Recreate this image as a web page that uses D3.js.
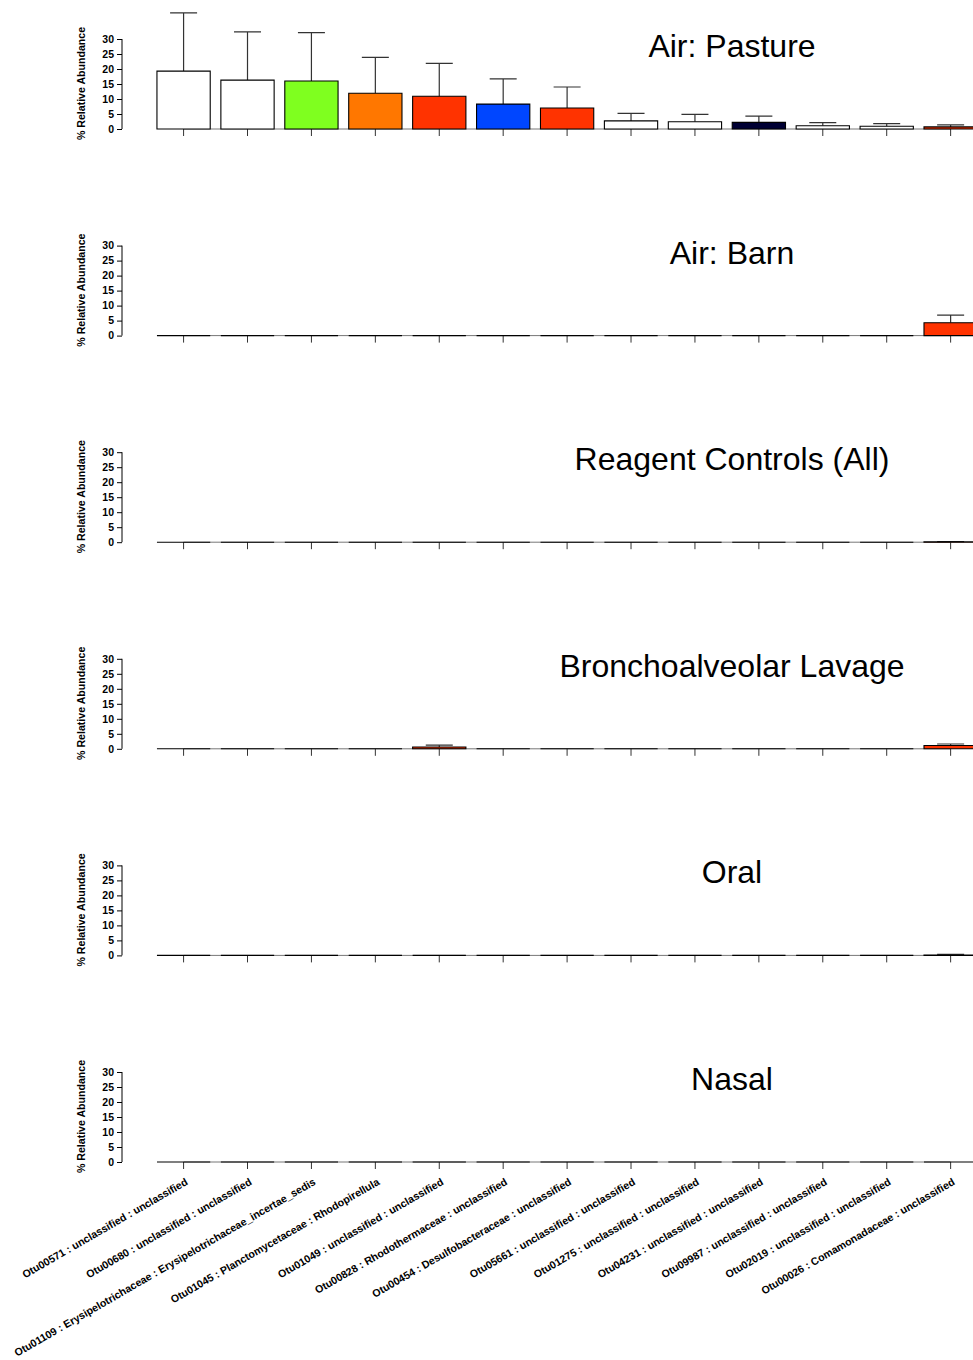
<!DOCTYPE html>
<html>
<head>
<meta charset="utf-8">
<script src="https://cdn.jsdelivr.net/npm/d3@7"></script>
<style>
  body { margin: 0; background: #fff; }
  svg { display: block; font-family: "Liberation Sans", Arial, sans-serif; }
</style>
</head>
<body>
<div id="chart"></div>
<script>
// OTU labels along the bottom
var otus = [
  "Otu00571 : unclassified : unclassified",
  "Otu00680 : unclassified : unclassified",
  "Otu01109 : Erysipelotrichaceae : Erysipelotrichaceae_incertae_sedis",
  "Otu01045 : Planctomycetaceae : Rhodopirellula",
  "Otu01049 : unclassified : unclassified",
  "Otu00828 : Rhodothermaceae : unclassified",
  "Otu00454 : Desulfobacteraceae : unclassified",
  "Otu05661 : unclassified : unclassified",
  "Otu01275 : unclassified : unclassified",
  "Otu04231 : unclassified : unclassified",
  "Otu09987 : unclassified : unclassified",
  "Otu02019 : unclassified : unclassified",
  "Otu00026 : Comamonadaceae : unclassified"
];
var barColors = ["#FFFFFF","#FFFFFF","#7FFF1F","#FF7700","#FF3300","#0046FF","#FF3300",
                 "#FFFFFF","#FFFFFF","#000033","#FFFFFF","#FFFFFF","#FF3300"];

var titles = ["Air: Pasture", "Air: Barn", "Reagent Controls (All)", "Bronchoalveolar Lavage", "Oral", "Nasal"];

// mean and mean+sd (top of error bar) per sample type
var pastureMean = [19.3, 16.3, 16.0, 11.9, 10.9, 8.3, 7.0, 2.7, 2.4, 2.2, 1.1, 0.9, 0.7];
var pastureTop  = [38.7, 32.4, 32.1, 23.9, 21.9, 16.7, 14.0, 5.2, 4.9, 4.3, 2.1, 1.8, 1.4];
var barnMean    = [0, 0, 0, 0, 0, 0, 0, 0, 0, 0, 0, 0, 4.3];
var barnTop     = [0, 0, 0, 0, 0, 0, 0, 0, 0, 0, 0, 0, 6.8];
var reagentMean = [0, 0, 0, 0, 0, 0, 0, 0, 0, 0, 0, 0, 0.1];
var reagentTop  = [0, 0, 0, 0, 0, 0, 0, 0, 0, 0, 0, 0, 0.2];
var balMean     = [0, 0, 0, 0, 0.6, 0, 0, 0, 0, 0, 0, 0, 1.1];
var balTop      = [0, 0, 0, 0, 1.2, 0, 0, 0, 0, 0, 0, 0, 1.6];
var oralMean    = [0, 0, 0, 0, 0, 0, 0, 0, 0, 0, 0, 0, 0.15];
var oralTop     = [0, 0, 0, 0, 0, 0, 0, 0, 0, 0, 0, 0, 0.35];
var nasalMean   = [0, 0, 0, 0, 0, 0, 0, 0, 0, 0, 0, 0, 0];
var nasalTop    = [0, 0, 0, 0, 0, 0, 0, 0, 0, 0, 0, 0, 0];
var yTicks = [0, 5, 10, 15, 20, 25, 30];

var means = [pastureMean, barnMean, reagentMean, balMean, oralMean, nasalMean];
var tops  = [pastureTop, barnTop, reagentTop, balTop, oralTop, nasalTop];

var W = 973, H = 1360;
var base0 = 129, panelStep = 206.6;

var svg = d3.select("#chart").append("svg").attr("width", W).attr("height", H);

var x = d3.scaleBand().domain(otus)
  .range([146.3, 146.3 + 63.92 * (13 + 1/6)])
  .paddingInner(1/6).paddingOuter(1/6);
var cx = function(d) { return x(d) + x.bandwidth() / 2; };

titles.forEach(function(t, p) {
  var base = base0 + p * panelStep;
  var y = d3.scaleLinear().domain([0, 30]).range([base, base - 90]);
  var g = svg.append("g");

  // y axis
  var ya = g.append("g").attr("transform", "translate(122,0)")
    .call(d3.axisLeft(y).tickValues(yTicks).tickSize(5).tickPadding(3));
  ya.select(".domain").attr("stroke", "#000").attr("d", "M0," + y(0) + "V" + y(30));
  ya.selectAll("text").attr("font-size", 10.5).attr("font-weight", "bold")
    .attr("font-family", "Liberation Sans, Arial, sans-serif").attr("fill", "#000");

  g.append("text")
    .attr("transform", "translate(84.5," + (base - 45.5) + ") rotate(-90)")
    .attr("text-anchor", "middle")
    .attr("font-size", 10.6).attr("font-weight", "bold")
    .text("% Relative Abundance");

  // x axis, ticks at bar centres
  var xa = g.append("g").attr("transform", "translate(0," + base + ")")
    .call(d3.axisBottom(x).tickSize(7).tickFormat(""));
  xa.select(".domain").attr("stroke", "#777")
    .attr("d", "M" + cx(otus[0]) + ",0H" + cx(otus[otus.length - 1]));
  xa.selectAll(".tick line").attr("stroke", "#333");

  var m = means[p], tp = tops[p];

  // error bars
  g.selectAll(".err").data(otus).enter().append("path")
    .attr("fill", "none").attr("stroke", "#333").attr("stroke-width", 1.2)
    .attr("d", function(d, i) {
      if (tp[i] <= 0) return null;
      var c = cx(d);
      return "M" + c + "," + y(m[i]) + "V" + y(tp[i]) + "M" + (c - 13.5) + "," + y(tp[i]) + "H" + (c + 13.5);
    });

  // bars (paths so that zero-height bars still show their outline)
  g.selectAll(".bar").data(otus).enter().append("path")
    .attr("fill", function(d, i) { return barColors[i]; })
    .attr("stroke", "#000").attr("stroke-width", 1.1)
    .attr("d", function(d, i) {
      var x0 = x(d), x1 = x(d) + x.bandwidth();
      return "M" + x0 + "," + y(0) + "V" + y(m[i]) + "H" + x1 + "V" + y(0) + "Z";
    });

  g.append("text")
    .attr("x", 732).attr("y", base - 72)
    .attr("text-anchor", "middle")
    .attr("font-size", 32)
    .text(t);
});

// rotated OTU labels under the last panel
var lastBase = base0 + 5 * panelStep;
svg.append("g").selectAll("text").data(otus).enter().append("text")
  .attr("transform", function(d) {
    return "translate(" + (cx(d) + 5) + "," + (lastBase + 22) + ") rotate(-30)";
  })
  .attr("text-anchor", "end")
  .attr("font-size", 10.6).attr("font-weight", "bold")
  .text(function(d) { return d; });
</script>
</body>
</html>
